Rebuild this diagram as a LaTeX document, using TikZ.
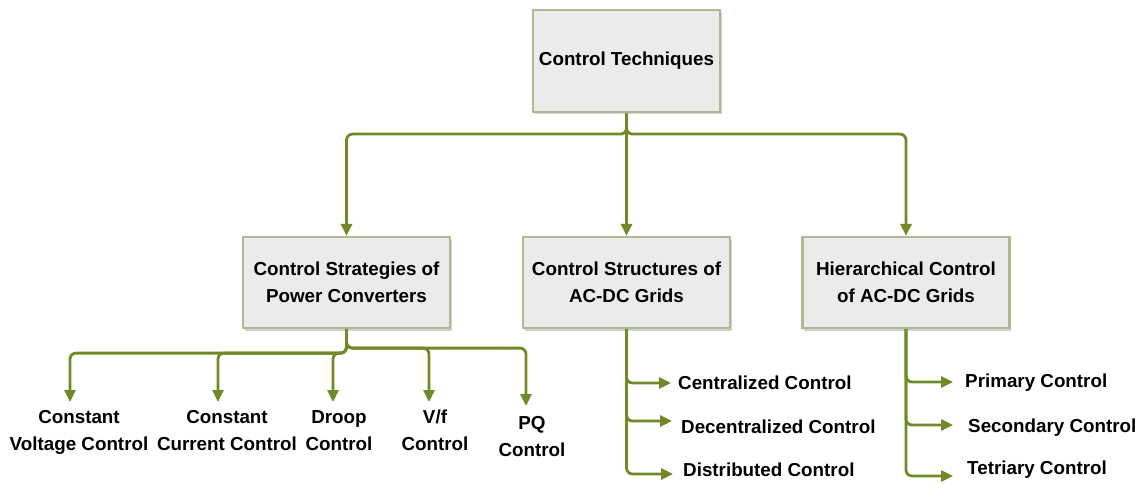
\documentclass[tikz,border=0pt]{standalone}
\usepackage{fontspec}
\setmainfont{Liberation Sans}
\usetikzlibrary{arrows.meta,calc,shadows}
\definecolor{olive}{RGB}{112,138,40}
\definecolor{boxline}{RGB}{175,185,145}
\definecolor{boxfill}{RGB}{235,235,235}
\begin{document}
\begin{tikzpicture}[x=1pt,y=-1pt,
  every node/.style={font=\bfseries\fontsize{18.8}{27}\selectfont, inner sep=0pt},
  box/.style={draw=boxline, line width=2.2pt, fill=boxfill, align=center,
    minimum width=207pt, minimum height=91pt,
    drop shadow={shadow xshift=1.5pt, shadow yshift=-2.5pt, fill=black!35, opacity=0.5}},
  lbl/.style={align=center, anchor=north},
  side/.style={anchor=west},
  conn/.style={draw=olive, line width=2.8pt, rounded corners=6pt,
    -{Triangle[length=12pt,width=11pt]}}]
\useasboundingbox (0,0) rectangle (1140,484);

% boxes
\node[box, minimum width=187pt, minimum height=102pt] (top) at (626.5,61) {Control Techniques};
\node[box] (csp) at (346.5,282.5) {Control Strategies of\\Power Converters};
\node[box] (cs)  at (626.5,282.5) {Control Structures of\\AC-DC Grids};
\node[box] (hc)  at (906,282.5) {Hierarchical Control\\of AC-DC Grids};

% bottom labels
\node[lbl] (cvc) at (79,410) {Constant\\Voltage Control};
\node[lbl] (ccc) at (227,410) {Constant\\Current Control};
\node[lbl] (dro) at (339,410) {Droop\\Control};
\node[lbl] (vf)  at (435,410) {V/f\\Control};
\node[lbl] (pq)  at (532,416) {PQ\\Control};

% side labels
\node[side] (cen) at (678,383) {Centralized Control};
\node[side] (dec) at (681,427) {Decentralized Control};
\node[side] (dis) at (683,470) {Distributed Control};
\node[side] (pri) at (965,383) {Primary Control};
\node[side] (sec) at (968,428) {Secondary Control};
\node[side] (ter) at (967,470) {Tetriary Control};

% arrow tips
\path (cvc.north) ++(-9,-8) coordinate (t1);
\path (ccc.north) ++(-9,-8) coordinate (t2);
\path (dro.north) ++(-6,-8) coordinate (t3);
\path (vf.north)  ++(-6,-8) coordinate (t4);
\path (pq.north)  ++(-6,-10) coordinate (t5);
\path (cen.west) ++(-7,0) coordinate (s1);
\path (dec.west) ++(-9,-6) coordinate (s2);
\path (dis.west) ++(-10,4) coordinate (s3);
\path (pri.west) ++(-12,-1) coordinate (s4);
\path (sec.west) ++(-15,-3) coordinate (s5);
\path (ter.west) ++(-14,6) coordinate (s6);

% top level connectors
\draw[conn] (top.south) -- ++(0,21) -| (csp.north);
\draw[conn] (top.south) -- (cs.north);
\draw[conn] (top.south) -- ++(0,21) -| (hc.north);

% converter strategies
\draw[conn] (csp.south) -- ++(0,24) -| (t1);
\draw[conn] (csp.south) -- ++(0,24) -| (t2);
\draw[conn] (csp.south) -- ++(0,24) -| (t3);
\draw[conn] (csp.south) -- ++(0,19) -| (t4);
\draw[conn] (csp.south) -- ++(0,19) -| (t5);

% control structures
\draw[conn] (cs.south) |- (s1);
\draw[conn] (cs.south) |- (s2);
\draw[conn] (cs.south) |- (s3);

% hierarchical
\draw[conn] (hc.south) |- (s4);
\draw[conn] (hc.south) |- (s5);
\draw[conn] (hc.south) |- (s6);
\end{tikzpicture}
\end{document}
